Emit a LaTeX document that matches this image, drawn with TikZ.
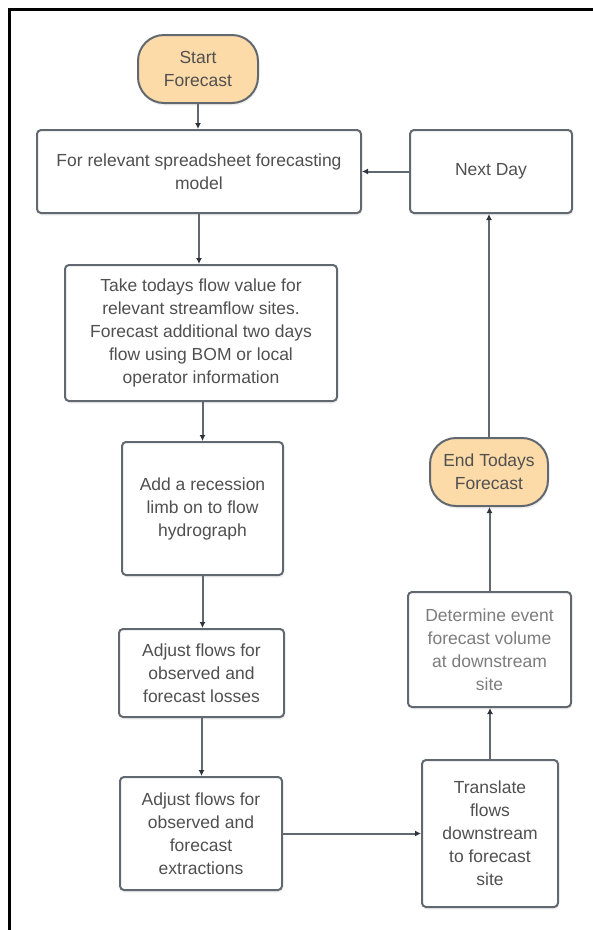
\documentclass[tikz,border=0pt]{standalone}
\usepackage{fontspec}
\setmainfont{Liberation Sans}
\usetikzlibrary{arrows.meta,shadows}
\definecolor{edgegray}{RGB}{98,104,112}
\definecolor{tipdark}{RGB}{45,52,62}
\definecolor{txtgray}{RGB}{80,80,80}
\definecolor{paletxt}{RGB}{125,125,125}
\definecolor{peach}{RGB}{253,219,168}
\tikzset{
 stepbox/.style={draw=edgegray,line width=2pt,rounded corners=4pt,fill=white,text=txtgray,align=center,inner sep=0pt,
  font=\fontsize{17.5}{23}\selectfont,drop shadow={opacity=0.12,shadow xshift=1pt,shadow yshift=-2.5pt}},
 endbox/.style={stepbox,fill=peach,rounded corners=26pt},
 flow/.style={draw=edgegray,line width=2pt,-{Latex[length=6pt,width=6pt,color=tipdark]}}
}
\begin{document}
\begin{tikzpicture}[x=1pt,y=-1pt]
 \useasboundingbox (0,0) rectangle (593,930);
 \draw[line width=3pt] (9,930) -- (9,9) -- (593,9);
 % left column
 \node[endbox,minimum width=120pt,minimum height=68pt] (start) at (198,69) {Start\\Forecast};
 \node[stepbox,minimum width=324pt,minimum height=83pt] (model) at (199,171.5) {For relevant spreadsheet forecasting\\model};
 \node[stepbox,minimum width=272pt,minimum height=136pt] (today) at (201,333) {Take todays flow value for\\relevant streamflow sites.\\Forecast additional two days\\flow using BOM or local\\operator information};
 \node[stepbox,minimum width=161pt,minimum height=133pt] (recession) at (202.5,508.5) {Add a recession\\limb on to flow\\hydrograph};
 \node[stepbox,minimum width=165pt,minimum height=88pt] (losses) at (201.5,673) {Adjust flows for\\observed and\\forecast losses};
 \node[stepbox,minimum width=162pt,minimum height=113pt] (extractions) at (201,833.5) {Adjust flows for\\observed and\\forecast\\extractions};
 % right column
 \node[stepbox,minimum width=136pt,minimum height=147pt] (translate) at (490,833.5) {Translate\\flows\\downstream\\to forecast\\site};
 \node[stepbox,minimum width=163pt,minimum height=115pt,text=paletxt] (volume) at (489.5,649.5) {Determine event\\forecast volume\\at downstream\\site};
 \node[endbox,minimum width=118pt,minimum height=68pt] (finish) at (489,472) {End Todays\\Forecast};
 \node[stepbox,minimum width=162pt,minimum height=83pt] (nextday) at (491,171.5) {Next Day};
 % connectors
 \draw[flow] (start.south) -- (start.south |- model.north);
 \draw[flow] (nextday.west) -- (model.east);
 \draw[flow] (model.south) -- (model.south |- today.north);
 \draw[flow] (recession.north |- today.south) -- (recession.north);
 \draw[flow] (recession.south) -- (recession.south |- losses.north);
 \draw[flow] (losses.south) -- (losses.south |- extractions.north);
 \draw[flow] (extractions.east) -- (translate.west);
 \draw[flow] (translate.north) -- (translate.north |- volume.south);
 \draw[flow] (volume.north) -- (volume.north |- finish.south);
 \draw[flow] (finish.north) -- (finish.north |- nextday.south);
\end{tikzpicture}
\end{document}
